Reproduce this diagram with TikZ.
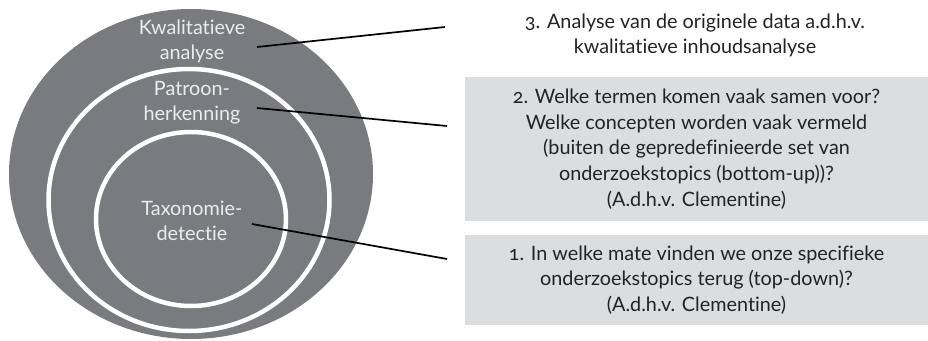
\documentclass[tikz,border=0pt]{standalone}
\usepackage{fontspec}
\setmainfont{Lato}[Numbers=OldStyle, Ligatures={NoCommon}]
\usetikzlibrary{shapes.geometric}
\definecolor{ringgray}{RGB}{122,123,127}
\definecolor{boxgray}{RGB}{220,221,223}
\definecolor{lighttext}{RGB}{236,236,238}
\definecolor{darktext}{RGB}{35,35,35}
\tikzset{
  ring/.style={ellipse, fill=ringgray, inner sep=0pt},
  whitering/.style={ring, draw=white, line width=4.5pt},
  ringlabel/.style={text=lighttext, align=center, font=\fontsize{19.8}{25}\selectfont, inner sep=0pt},
  infobox/.style={fill=boxgray, minimum width=463pt, inner sep=0pt, text=darktext, align=center, font=\fontsize{19.8}{25.8}\selectfont},
  infotext/.style={text=darktext, align=center, font=\fontsize{19.8}{25}\selectfont, inner sep=0pt},
  connector/.style={draw=black, line width=1.7pt}
}
\begin{document}
\begin{tikzpicture}[x=1pt,y=-1pt]
\useasboundingbox (0,0) rectangle (928,340);
% rings
\node[ring, minimum width=364pt, minimum height=330pt] (outer) at (191,174) {};
\node[whitering, minimum width=281pt, minimum height=262pt] (middle) at (189,200) {};
\node[whitering, minimum width=190pt, minimum height=174pt] (inner) at (191,219) {};
% ring labels
\node[ringlabel] (l3) at (192,41) {Kwalitatieve\\analyse};
\node[ringlabel] (l2) at (192,103) {Patroon-\\herkenning};
\node[ringlabel] (l1) at (192,221) {Taxonomie-\\detectie};
% boxes
\node[infotext] (t3) at (695,35) {3. Analyse van de originele data a.d.h.v.\\kwalitatieve inhoudsanalyse};
\node[infobox, minimum height=144pt] (b2) at (696.5,149) {2. Welke termen komen vaak samen voor?\\Welke concepten worden vaak vermeld\\(buiten de gepredefinieerde set van\\onderzoekstopics (bottom-up))?\\(A.d.h.v. Clementine)};
\node[infobox, minimum height=90pt] (b1) at (696.5,280) {1. In welke mate vinden we onze specifieke\\onderzoekstopics terug (top-down)?\\(A.d.h.v. Clementine)};
% connector endpoints
\coordinate (s3) at (257,47);
\coordinate (e3) at (445,27);
\coordinate (s2) at (257,108);
\coordinate (e2) at (447,126);
\coordinate (s1) at (252,224);
\coordinate (e1) at (447,259);
\draw[connector] (s3) -- (e3);
\draw[connector] (s2) -- (e2);
\draw[connector] (s1) -- (e1);
\end{tikzpicture}
\end{document}
